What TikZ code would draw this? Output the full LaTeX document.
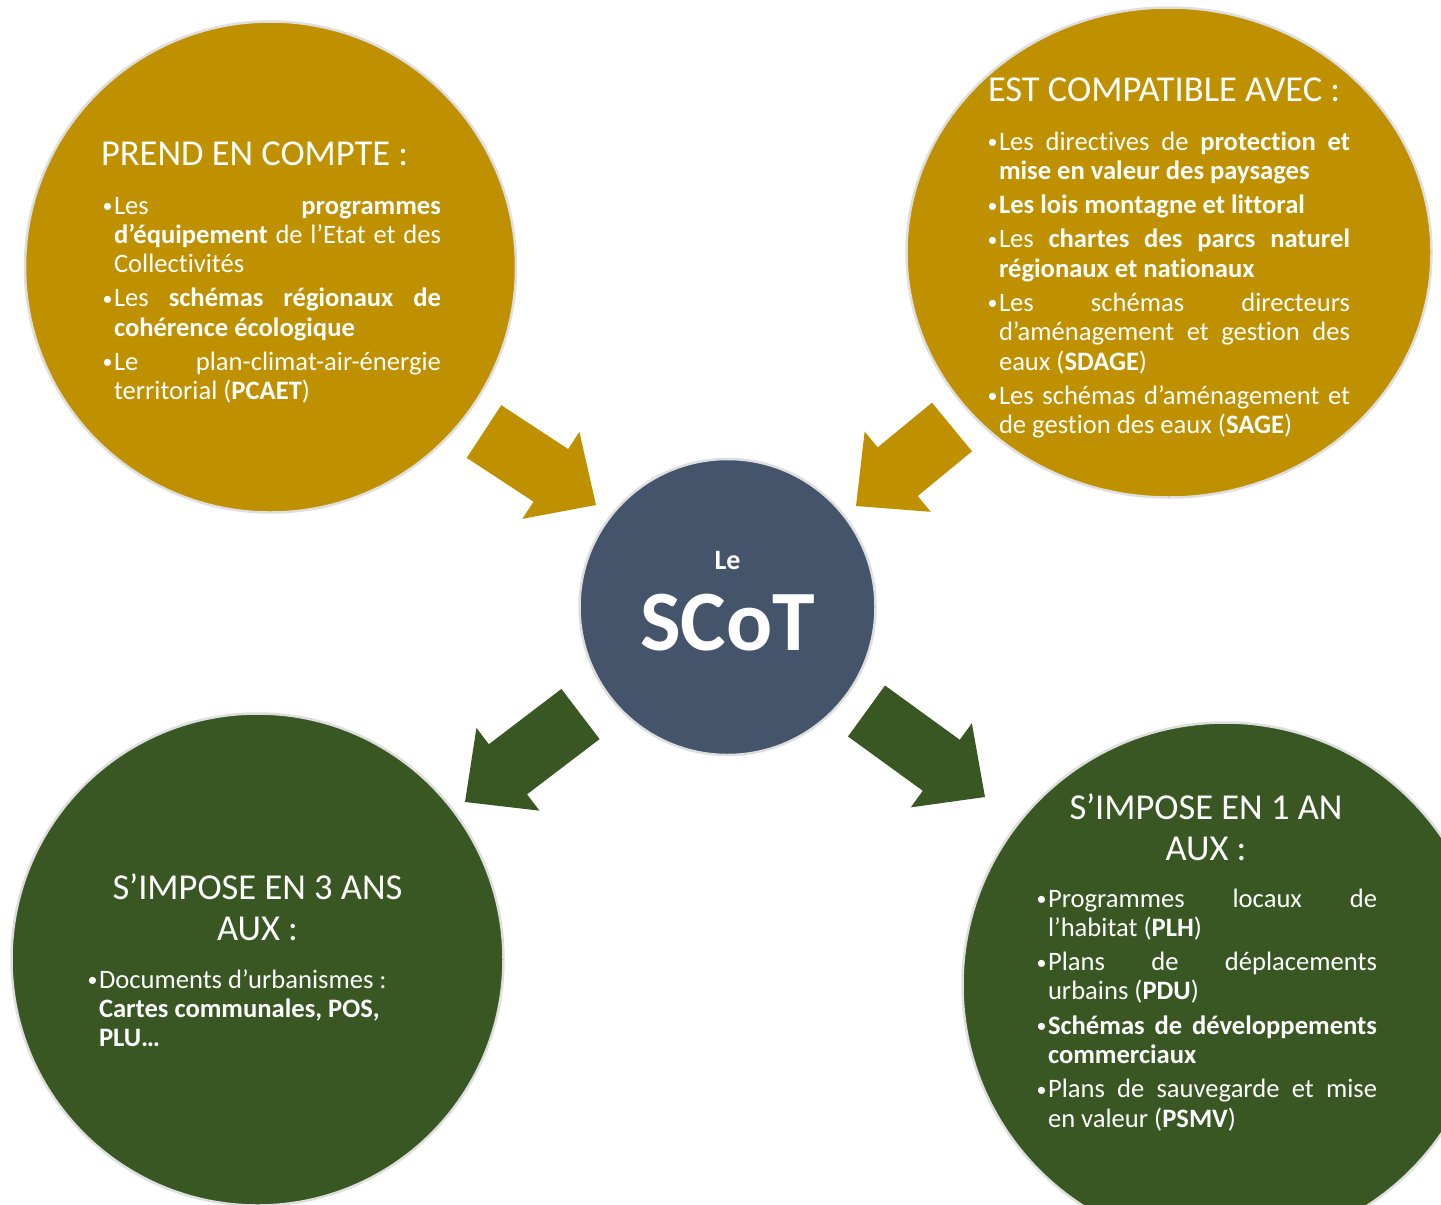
\documentclass[tikz,border=0pt]{standalone}
\usepackage{fontspec}
\setmainfont{Carlito}[Ligatures={NoCommon}]
\usetikzlibrary{calc,shapes.geometric}
\definecolor{gold}{RGB}{191,144,0}
\definecolor{dgreen}{RGB}{56,87,35}
\definecolor{slate}{RGB}{68,84,106}
\definecolor{rim}{RGB}{222,222,222}
\newcommand\bodyfont{\fontsize{26.6}{29.3}\selectfont}
\newcommand\ttlfont{\fontsize{36.5}{41}\selectfont}
\newcommand\itm{\par\hangindent=11pt\hangafter=1\noindent\makebox[11pt][l]{\hspace{-0.5pt}\raisebox{1.6pt}{\fontsize{20}{20}\selectfont •}}}
\newcommand\bodybox[2]{\parbox[t]{#1}{\bodyfont\hbadness=10000\tolerance=10000\hyphenpenalty=10000\exhyphenpenalty=10000\parskip=5pt\relax #2}}
\newcommand\blockarrow[3]{%
  \coordinate (#1-n) at ($(#2)!54pt!(#1)$);
  \fill[#3] ($(#1)!31.5pt!90:(#2)$) -- ($(#1-n)!31.5pt!-90:(#1)$) -- ($(#1-n)!52pt!-90:(#1)$) -- (#2)
    -- ($(#1-n)!52pt!90:(#1)$) -- ($(#1-n)!31.5pt!90:(#1)$) -- ($(#1)!31.5pt!-90:(#2)$) -- cycle;}
\begin{document}
\begin{tikzpicture}[x=1pt,y=-1pt,
  bubble/.style={circle,draw=rim,line width=2.5pt,inner sep=0},
  bubbleE/.style={ellipse,draw=rim,line width=2.5pt,inner sep=0},
  txt/.style={inner sep=0,outer sep=0,text=white}]
\useasboundingbox (0,0) rectangle (1441,1205);
\fill[white] (0,0) rectangle (1441,1205);
% circles
\node[bubble,fill=gold,minimum size=491] (tl) at (270.5,267) {};
\node[bubbleE,fill=gold,minimum width=525,minimum height=490] (tr) at (1169,252.5) {};
\node[bubble,fill=dgreen,minimum size=492] (bl) at (257.5,959.5) {};
\node[bubble,fill=dgreen,minimum size=525] (br) at (1225,985) {};
\node[bubble,fill=slate,minimum size=296] (scot) at (727.5,607) {};
% arrows
\coordinate (a1s) at (484,431.5); \coordinate (a1e) at (596,505);
\coordinate (a2s) at (952,427);   \coordinate (a2e) at (856,506);
\coordinate (a3s) at (580.5,714); \coordinate (a3e) at (465,802);
\coordinate (a4s) at (866.5,711); \coordinate (a4e) at (985,797);
\blockarrow{a1s}{a1e}{gold}
\blockarrow{a2s}{a2e}{gold}
\blockarrow{a3s}{a3e}{dgreen}
\blockarrow{a4s}{a4e}{dgreen}
% centre
\node[txt,anchor=base] (le) at (727.5,569) {\fontsize{28}{30}\selectfont\bfseries Le};
\node[txt,anchor=base] (scott) at (727.5,650) {\fontsize{86}{90}\selectfont\bfseries SCoT};
% top left
\node[txt,anchor=base west] (tlt) at (101,165) {\ttlfont PREND EN COMPTE :};
\node[txt,anchor=base west] (tlb) at (103,214) {\bodybox{338pt}{%
\itm Les \textbf{programmes}\linebreak \textbf{d’équipement} de l’Etat et des\linebreak Collectivités
\itm Les \textbf{schémas régionaux de}\linebreak \textbf{cohérence écologique}
\itm Le plan-climat-air-énergie\linebreak territorial (\textbf{PCAET})}};
% top right
\node[txt,anchor=base west] (trt) at (988,101) {\ttlfont EST COMPATIBLE AVEC :};
\node[txt,anchor=base west] (trb) at (988,150) {\bodybox{362pt}{%
\itm Les directives de \textbf{protection et}\linebreak \textbf{mise en valeur des paysages}
\itm \textbf{Les lois montagne et littoral}
\itm Les \textbf{chartes des parcs naturel}\linebreak \textbf{régionaux et nationaux}
\itm Les schémas directeurs\linebreak d’aménagement et gestion des\linebreak eaux (\textbf{SDAGE})
\itm Les schémas d’aménagement et\linebreak de gestion des eaux (\textbf{SAGE})}};
% bottom left
\node[txt,anchor=base] (blt) at (257.5,899) {\parbox[t]{460pt}{\centering\ttlfont S’IMPOSE EN 3 ANS\\AUX :}};
\node[txt,anchor=base west] (blb) at (88,988) {\bodybox{320pt}{%
\itm Documents d’urbanismes~:\\ \textbf{Cartes communales, POS,}\\ \textbf{PLU…}}};
% bottom right
\node[txt,anchor=base] (brt) at (1206,819) {\parbox[t]{460pt}{\centering\ttlfont S’IMPOSE EN 1 AN\\AUX :}};
\node[txt,anchor=base west] (brb) at (1037,907) {\bodybox{340pt}{%
\itm Programmes locaux de\linebreak l’habitat (\textbf{PLH})
\itm Plans de déplacements\linebreak urbains (\textbf{PDU})
\itm \textbf{Schémas de développements}\linebreak \textbf{commerciaux}
\itm Plans de sauvegarde et mise\linebreak en valeur (\textbf{PSMV})}};
\end{tikzpicture}
\end{document}
